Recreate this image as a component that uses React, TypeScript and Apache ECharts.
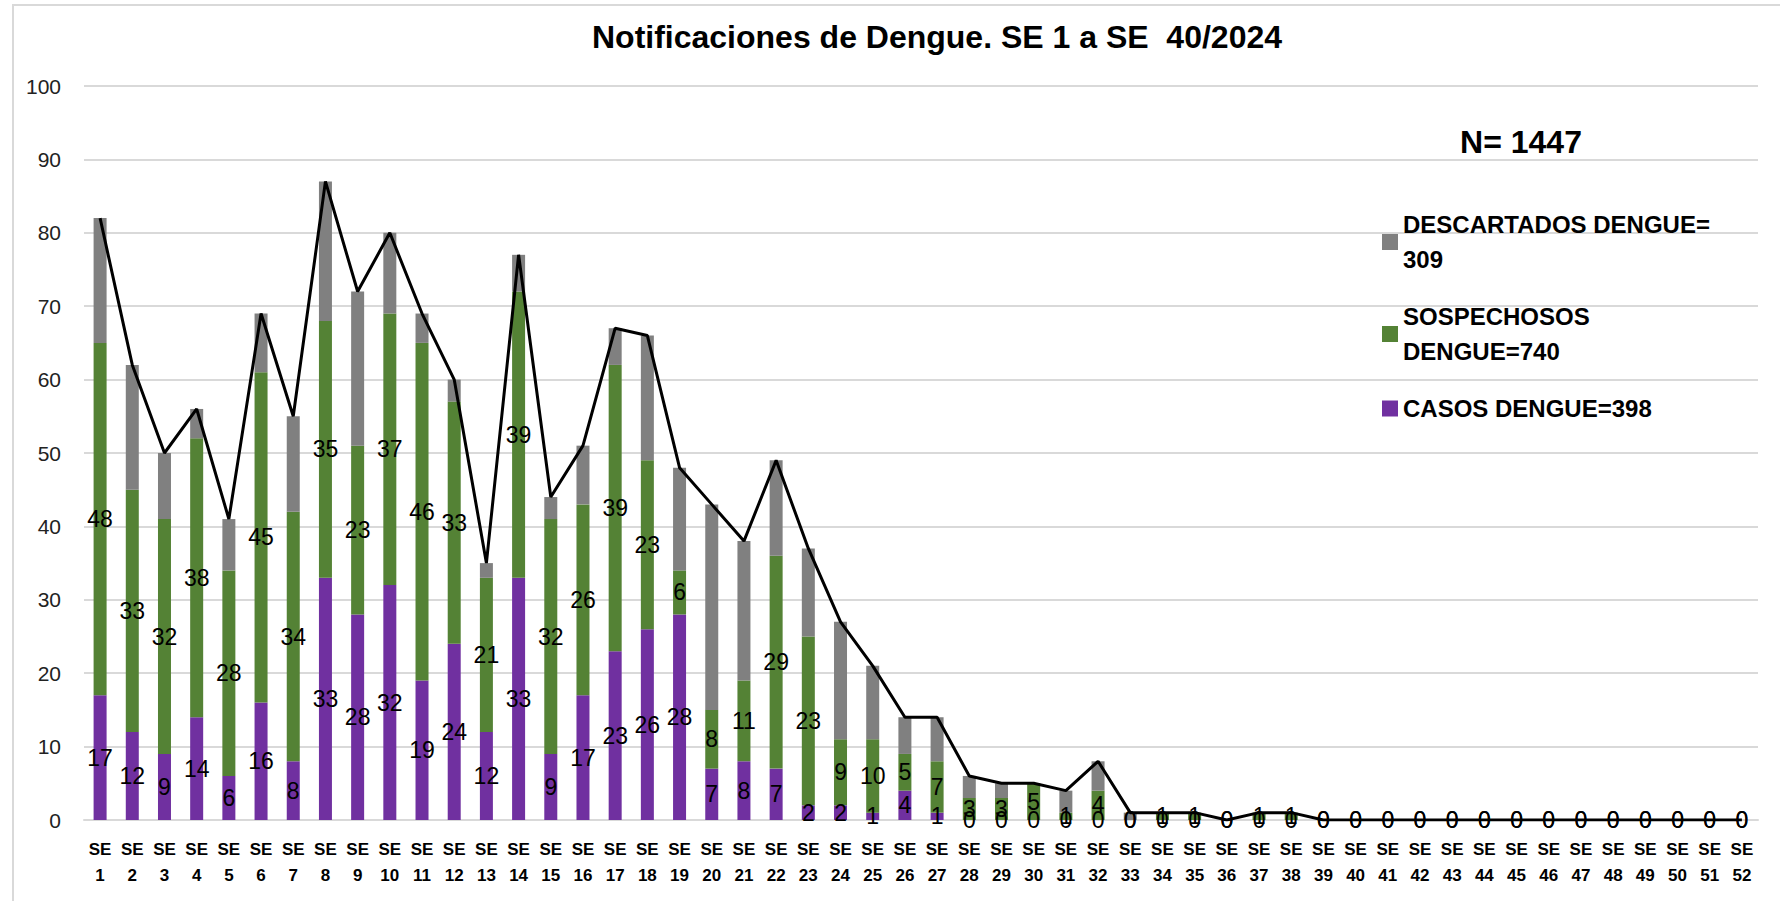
import React, { useEffect, useRef } from "react";
import * as echarts from "echarts";

const weeks = [
  "SE 1", "SE 2", "SE 3", "SE 4", "SE 5", "SE 6", "SE 7", "SE 8", "SE 9", "SE 10",
  "SE 11", "SE 12", "SE 13", "SE 14", "SE 15", "SE 16", "SE 17", "SE 18", "SE 19", "SE 20",
  "SE 21", "SE 22", "SE 23", "SE 24", "SE 25", "SE 26", "SE 27", "SE 28", "SE 29", "SE 30",
  "SE 31", "SE 32", "SE 33", "SE 34", "SE 35", "SE 36", "SE 37", "SE 38", "SE 39", "SE 40",
  "SE 41", "SE 42", "SE 43", "SE 44", "SE 45", "SE 46", "SE 47", "SE 48", "SE 49", "SE 50",
  "SE 51", "SE 52",
];

const casos = [
  17, 12, 9, 14, 6, 16, 8, 33, 28, 32, 19, 24, 12, 33, 9, 17, 23, 26, 28, 7,
  8, 7, 2, 2, 1, 4, 1, 0, 0, 0, 0, 0, 0, 0, 0, 0, 0, 0, 0, 0,
  0, 0, 0, 0, 0, 0, 0, 0, 0, 0, 0, 0,
];

const sospechosos = [
  48, 33, 32, 38, 28, 45, 34, 35, 23, 37, 46, 33, 21, 39, 32, 26, 39, 23, 6, 8,
  11, 29, 23, 9, 10, 5, 7, 3, 3, 5, 1, 4, 0, 1, 1, 0, 1, 1, 0, 0,
  0, 0, 0, 0, 0, 0, 0, 0, 0, 0, 0, 0,
];

const descartados = [
  17, 17, 9, 4, 7, 8, 13, 19, 21, 11, 4, 3, 2, 5, 3, 8, 5, 17, 14, 28,
  19, 13, 12, 16, 10, 5, 6, 3, 2, 0, 3, 4, 1, 0, 0, 0, 0, 0, 0, 0,
  0, 0, 0, 0, 0, 0, 0, 0, 0, 0, 0, 0,
];

const totales = [
  82, 62, 50, 56, 41, 69, 55, 87, 72, 80, 69, 60, 35, 77, 44, 51, 67, 66, 48, 43,
  38, 49, 37, 27, 21, 14, 14, 6, 5, 5, 4, 8, 1, 1, 1, 0, 1, 1, 0, 0,
  0, 0, 0, 0, 0, 0, 0, 0, 0, 0, 0, 0,
];

const yTicks = { min: 0, max: 100, interval: 10 };

const TITLE = "Notificaciones de Dengue. SE 1 a SE  40/2024";
const N_TEXT = "N= 1447";
const NAME_DESC = "DESCARTADOS DENGUE=\n309";
const NAME_SOSP = "SOSPECHOSOS\nDENGUE=740";
const NAME_CASOS = "CASOS DENGUE=398";
const NAME_TOTAL = "TOTAL";

const FONT = "'Liberation Sans', Arial, sans-serif";

export default function App() {
  const ref = useRef<HTMLDivElement>(null);

  useEffect(() => {
    if (!ref.current) return;
    const chart = echarts.init(ref.current, null, { renderer: "svg" });
    const labelStyle = {
      show: true,
      position: "inside" as const,
      color: "#000",
      fontFamily: FONT,
      fontSize: 23,
    };
    chart.setOption({
      animation: false,
      backgroundColor: "#fff",
      textStyle: { fontFamily: FONT },
      grid: { left: 84, right: 22, top: 86, bottom: 81, containLabel: false },
      legend: {
        orient: "vertical",
        left: 1382,
        top: 207,
        padding: 0,
        itemWidth: 16,
        itemHeight: 16,
        itemGap: 22,
        icon: "rect",
        selectedMode: false,
        data: [NAME_DESC, NAME_SOSP, NAME_CASOS],
        textStyle: {
          fontFamily: FONT,
          fontWeight: "bold",
          fontSize: 24,
          lineHeight: 35,
          color: "#000",
        },
      },
      xAxis: {
        type: "category",
        data: weeks,
        axisTick: { show: false },
        axisLine: { show: true, lineStyle: { color: "#d9d9d9", width: 2 } },
        axisLabel: {
          interval: 0,
          margin: 16,
          color: "#000",
          fontFamily: FONT,
          fontWeight: "bold",
          fontSize: 17,
          lineHeight: 26,
          formatter: (v: string) => v.replace(" ", "\n"),
        },
      },
      yAxis: {
        type: "value",
        min: yTicks.min,
        max: yTicks.max,
        interval: yTicks.interval,
        axisLine: { show: false },
        axisTick: { show: false },
        splitLine: { lineStyle: { color: "#d9d9d9", width: 2 } },
        axisLabel: {
          margin: 23,
          color: "#222",
          fontFamily: FONT,
          fontSize: 21,
        },
      },
      graphic: [
        {
          type: "rect",
          shape: { x: 13, y: 5, width: 1800, height: 1000 },
          style: { fill: "none", stroke: "#d9d9d9", lineWidth: 2 },
          silent: true,
        },
        {
          type: "text",
          x: 937,
          y: 37,
          style: {
            text: TITLE,
            align: "center",
            verticalAlign: "middle",
            fill: "#000",
            font: `bold 32px ${FONT}`,
          },
        },
        {
          type: "text",
          x: 1521,
          y: 142,
          style: {
            text: N_TEXT,
            align: "center",
            verticalAlign: "middle",
            fill: "#000",
            font: `bold 32px ${FONT}`,
          },
        },
      ],
      series: [
        {
          name: NAME_CASOS,
          type: "bar",
          stack: "total",
          barWidth: 13,
          data: casos,
          itemStyle: { color: "#7030a0" },
          label: labelStyle,
        },
        {
          name: NAME_SOSP,
          type: "bar",
          stack: "total",
          barWidth: 13,
          data: sospechosos,
          itemStyle: { color: "#548235" },
          label: labelStyle,
        },
        {
          name: NAME_DESC,
          type: "bar",
          stack: "total",
          barWidth: 13,
          data: descartados,
          itemStyle: { color: "#808080" },
          label: { show: false },
        },
        {
          name: NAME_TOTAL,
          type: "line",
          data: totales,
          symbol: "none",
          z: 10,
          lineStyle: { color: "#000", width: 3 },
          itemStyle: { color: "#000" },
          silent: true,
        },
      ],
    });
    return () => chart.dispose();
  }, []);

  return (
    <div
      ref={ref}
      style={{ position: "absolute", left: 0, top: 0, width: 1780, height: 901 }}
    />
  );
}
